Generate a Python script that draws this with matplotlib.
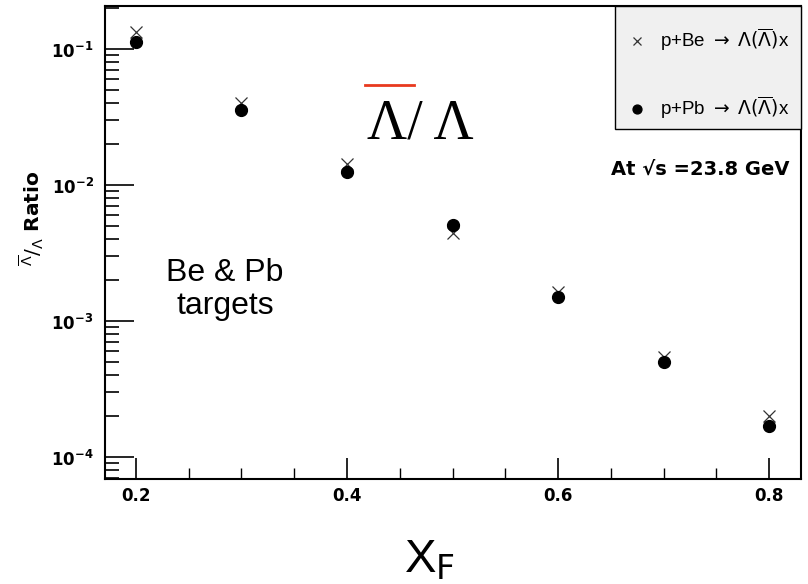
import matplotlib
matplotlib.use("Agg")
import matplotlib.pyplot as plt
from matplotlib.ticker import FixedLocator, MultipleLocator, NullFormatter
from matplotlib.lines import Line2D
from matplotlib.patches import Rectangle

plt.rcParams['font.family'] = ['Liberation Sans', 'DejaVu Sans']
plt.rcParams['mathtext.fontset'] = 'custom'
plt.rcParams['mathtext.rm'] = 'DejaVu Sans'
plt.rcParams['mathtext.it'] = 'DejaVu Sans:italic'
plt.rcParams['mathtext.bf'] = 'DejaVu Sans:bold'

# data
xf = [0.2, 0.3, 0.4, 0.5, 0.6, 0.7, 0.8]
ratio_be = [0.133, 0.0403, 0.01425, 0.00442, 0.00164, 5.41e-4, 2.0e-4]
ratio_pb = [0.112, 0.0355, 0.01253, 0.00508, 0.00151, 4.97e-4, 1.70e-4]
label_be = r"p+Be $\rightarrow$ $\Lambda(\overline{\Lambda})$x"
label_pb = r"p+Pb $\rightarrow$ $\Lambda(\overline{\Lambda})$x"
xticks = [0.2, 0.4, 0.6, 0.8]
xticklabels = ["0.2", "0.4", "0.6", "0.8"]
yticks = [1e-4, 1e-3, 1e-2, 1e-1]
yticklabels = [r"$\mathbf{10^{-4}}$", r"$\mathbf{10^{-3}}$", r"$\mathbf{10^{-2}}$", r"$\mathbf{10^{-1}}$"]

fig = plt.figure(figsize=(8.08, 5.84), dpi=100)
ax = fig.add_axes([0.1296, 0.1798, 0.8617, 0.8104])

ax.plot(xf, ratio_be, linestyle='none', marker='x', color='#333333',
        markersize=8, markeredgewidth=0.9, label=label_be, zorder=3)
ax.plot(xf, ratio_pb, linestyle='none', marker='o', color='black',
        markersize=8.5, label=label_pb, zorder=4)

ax.set_yscale('log')
ax.set_xlim(0.1706, 0.830)
ax.set_ylim(6.9e-5, 0.208)

ax.xaxis.set_major_locator(FixedLocator(xticks))
ax.set_xticklabels(xticklabels, fontsize=12, fontweight='bold', family='DejaVu Sans')
ax.xaxis.set_minor_locator(MultipleLocator(0.05))
ax.yaxis.set_major_locator(FixedLocator(yticks))
ax.set_yticklabels(yticklabels, fontsize=12)
minor = []
for d in [1e-5, 1e-4, 1e-3, 1e-2, 1e-1]:
    for m in range(2, 10):
        minor.append(d * m)
ax.yaxis.set_minor_locator(FixedLocator(minor))
ax.yaxis.set_minor_formatter(NullFormatter())

ax.tick_params(axis='both', which='both', direction='in', top=False, right=False, color='black')
ax.tick_params(axis='y', which='major', length=21, width=1.2, pad=8)
ax.tick_params(axis='y', which='minor', length=10, width=1.2)
ax.tick_params(axis='x', which='major', length=15, width=1.2, pad=6)
ax.tick_params(axis='x', which='minor', length=8, width=1.0)
for s in ax.spines.values():
    s.set_linewidth(1.5)

ax.set_ylabel(r"$^{\overline{\Lambda}}/_{\Lambda}$ Ratio", fontsize=14.5, fontweight='bold',
              family='DejaVu Sans')
ax.yaxis.set_label_coords(-0.085, 0.55)
ax.set_xlabel(r"X$_{\mathrm{F}}$", fontsize=34)
ax.xaxis.set_label_coords(0.467, -0.125)

# legend box
ax.add_patch(Rectangle((0.7329, 0.7395), 0.2671, 0.2605, transform=ax.transAxes,
                       facecolor='#f0f0f0', edgecolor='black', linewidth=1.0,
                       zorder=4.5, clip_on=False))
leg = ax.legend(loc='center left', bbox_to_anchor=(0.749, 0.8557), borderaxespad=0,
                frameon=False, fontsize=13.5, labelspacing=2.2, borderpad=0,
                handletextpad=0.7, handlelength=1.1, markerscale=0.75)
leg.set_zorder(6)

ax.text(0.377, 0.72, "Λ/ Λ", transform=ax.transAxes, fontsize=40,
        family=['Liberation Serif', 'DejaVu Serif'], ha='left', va='baseline')
ax.add_line(Line2D([0.3745, 0.4435], [0.833, 0.833], transform=ax.transAxes,
                   color='#e8391e', linewidth=2))

ax.text(0.984, 0.655, "At √s =23.8 GeV", transform=ax.transAxes, fontsize=14,
        fontweight='bold', family='DejaVu Sans', ha='right', va='center')
ax.text(0.173, 0.40, "Be & Pb\ntargets", transform=ax.transAxes, fontsize=23,
        ha='center', va='center', linespacing=1.15)

fig.savefig("out.png", dpi=100)
